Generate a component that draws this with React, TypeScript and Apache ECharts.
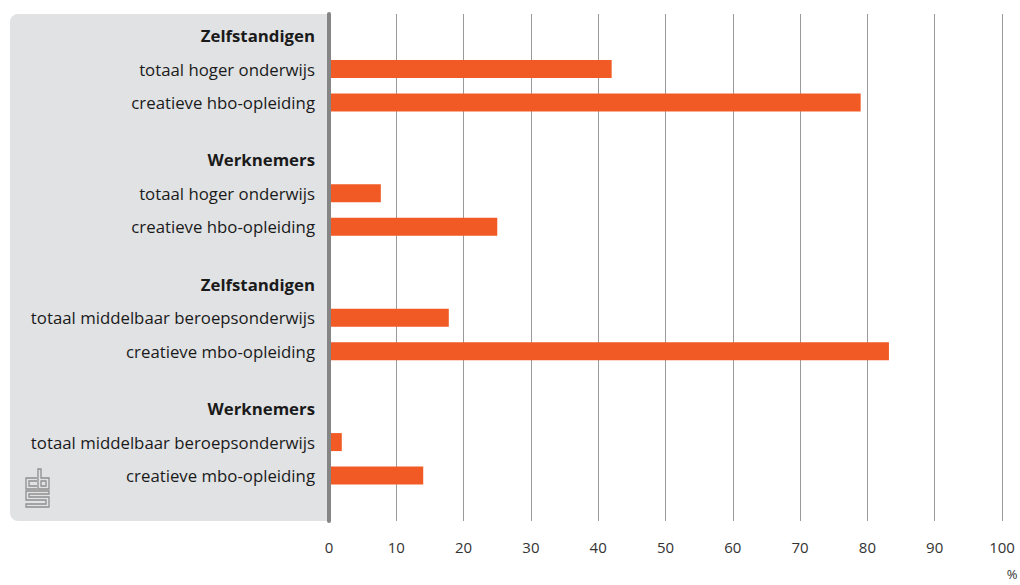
import React, { useEffect, useRef } from "react";
import * as echarts from "echarts";

const groupTitles = ["Zelfstandigen", "Werknemers", "Zelfstandigen", "Werknemers"];
const rowLabels = [
  ["totaal hoger onderwijs", "creatieve hbo-opleiding"],
  ["totaal hoger onderwijs", "creatieve hbo-opleiding"],
  ["totaal middelbaar beroepsonderwijs", "creatieve mbo-opleiding"],
  ["totaal middelbaar beroepsonderwijs", "creatieve mbo-opleiding"],
];
const rowValues = [
  [42, 79],
  [7.7, 25],
  [17.8, 83.2],
  [1.9, 14],
];
const xTicks = [0, 10, 20, 30, 40, 50, 60, 70, 80, 90, 100];

const LOGO_D =
  "M12,9 H1 V20 H12 M12,12 H4 V17 H12 " +
  "M13,0 H16 V9 H24 V20 H13 Z M16,12 H21 V17 H16 Z " +
  "M24,22 H1 V31 H21 V35 H1 V38 H24 V28 H4 V25 H24 Z";

let registered = false;
const FONT = "Open Sans";
const YFS = 16.8;

export default function App() {
  const ref = useRef<HTMLDivElement>(null);
  useEffect(() => {
    if (!registered) {
      echarts.graphic.registerShape("logo", echarts.graphic.extendPath(LOGO_D, {}) as any);
      registered = true;
    }
    const N = 106;
    const start = 4;
    const rowStep = 7;
    const groupPeriod = 26;
    const cats: string[] = new Array(N).fill("");
    const isHeader: boolean[] = new Array(N).fill(false);
    const data: (number | string)[] = new Array(N).fill("-");
    groupTitles.forEach((t, g) => {
      const h = start + g * groupPeriod;
      cats[h] = t;
      isHeader[h] = true;
      rowLabels[g].forEach((lab, r) => {
        const idx = h + (r + 1) * rowStep;
        cats[idx] = lab;
        data[idx] = rowValues[g][r];
      });
    });

    const chart = echarts.init(ref.current!, null, { renderer: "svg" });
    chart.setOption({
      animation: false,
      textStyle: { fontFamily: FONT },
      grid: { left: 329, right: 18, top: 14, bottom: 64, containLabel: false },
      xAxis: {
        type: "value",
        min: 0,
        max: 100,
        interval: 10,
        axisLine: { show: false },
        axisTick: { show: false },
        axisLabel: {
          margin: 18,
          fontSize: 15,
          color: "#333",
          fontFamily: FONT,
          formatter: (v: number) => (xTicks.includes(v) ? String(v) : ""),
        },
        splitLine: { show: true, lineStyle: { color: "#9a9a9a", width: 1 } },
      },
      yAxis: {
        type: "category",
        inverse: true,
        data: cats,
        z: 5,
        axisLine: { show: true, lineStyle: { color: "#858585", width: 4 } },
        axisTick: { show: false },
        splitLine: { show: false },
        axisLabel: {
          interval: 0,
          margin: 14,
          fontSize: YFS,
          color: "#1a1a1a",
          fontFamily: FONT,
          formatter: (v: string, i: number) =>
            v === "" ? "" : isHeader[i] ? `{h|${v}}` : `{n|${v}}`,
          rich: {
            h: { fontWeight: "bold", fontSize: YFS, color: "#1a1a1a", fontFamily: FONT },
            n: { fontSize: YFS, color: "#1a1a1a", fontFamily: FONT },
          },
        },
      },
      series: [
        {
          type: "bar",
          data,
          barWidth: 18,
          itemStyle: { color: "#f15a24" },
          silent: true,
        },
      ],
      graphic: [
        {
          type: "rect",
          z: -10,
          shape: { x: 10, y: 14, width: 320, height: 507, r: [8, 0, 0, 8] },
          style: { fill: "#e1e2e4" },
        },
        {
          type: "logo",
          x: 25,
          y: 469,
          scaleX: 1,
          scaleY: 1,
          z: 10,
          style: { fill: "none", stroke: "#8f8f8f", lineWidth: 1.3 },
        },
        {
          type: "text",
          x: 1012,
          y: 574,
          z: 10,
          style: {
            text: "%",
            fontSize: 13,
            fill: "#333",
            fontFamily: FONT,
            align: "center",
            verticalAlign: "middle",
          },
        },
      ],
    });
    return () => chart.dispose();
  }, []);
  return (
    <div
      ref={ref}
      style={{ position: "fixed", left: 0, top: 0, width: 1020, height: 585, background: "#fff" }}
    />
  );
}
